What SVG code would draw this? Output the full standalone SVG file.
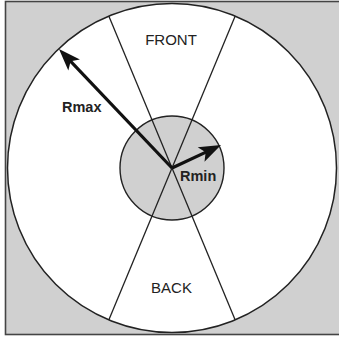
<svg xmlns="http://www.w3.org/2000/svg" width="339" height="340" viewBox="0 0 339 340">
<defs>
<style>
.frame{fill:#d0d0d0;stroke:#444;stroke-width:1.6}
.outer{fill:#fff;stroke:#222;stroke-width:1.5}
.inner{fill:#d0d0d0;stroke:#222;stroke-width:1.4}
.div{stroke:#222;stroke-width:1.3;fill:none}
.arrow{stroke:#111;stroke-width:3.2;fill:none;marker-end:url(#head)}
.lbl{font-family:"Liberation Sans",Arial,sans-serif;font-size:15px;fill:#222;text-anchor:middle}
.bold{font-family:"Liberation Sans",Arial,sans-serif;font-size:14.5px;font-weight:bold;fill:#222}
</style>
<marker id="head" markerUnits="userSpaceOnUse" markerWidth="26" markerHeight="20" viewBox="0 -10 24 20" refX="16" refY="0" orient="auto">
<path d="M0,-8 L22,0 L0,8 L5,0 z" fill="#111"/>
</marker>
</defs>
<rect class="frame" x="5.5" y="1.5" width="340" height="333"/>
<g id="outer-circle"><circle class="outer" cx="172" cy="168" r="164.5"/></g>
<g id="inner-circle"><circle class="inner" cx="172" cy="168" r="52"/></g>
<g id="connectors">
<line class="div" x1="108.8" y1="16.1" x2="235.2" y2="319.9"/>
<line class="div" x1="235.2" y1="16.1" x2="108.8" y2="319.9"/>
<line class="arrow" x1="172" y1="168" x2="63.1" y2="53.4"/>
<line class="arrow" x1="172" y1="168" x2="215.6" y2="147.6"/>
</g>
<g id="front"><text class="lbl" x="171" y="45">FRONT</text></g>
<g id="back"><text class="lbl" x="171.5" y="293">BACK</text></g>
<g id="rmax"><text class="bold" x="62" y="112">Rmax</text></g>
<g id="rmin"><text class="bold" x="180" y="181">Rmin</text></g>
</svg>
